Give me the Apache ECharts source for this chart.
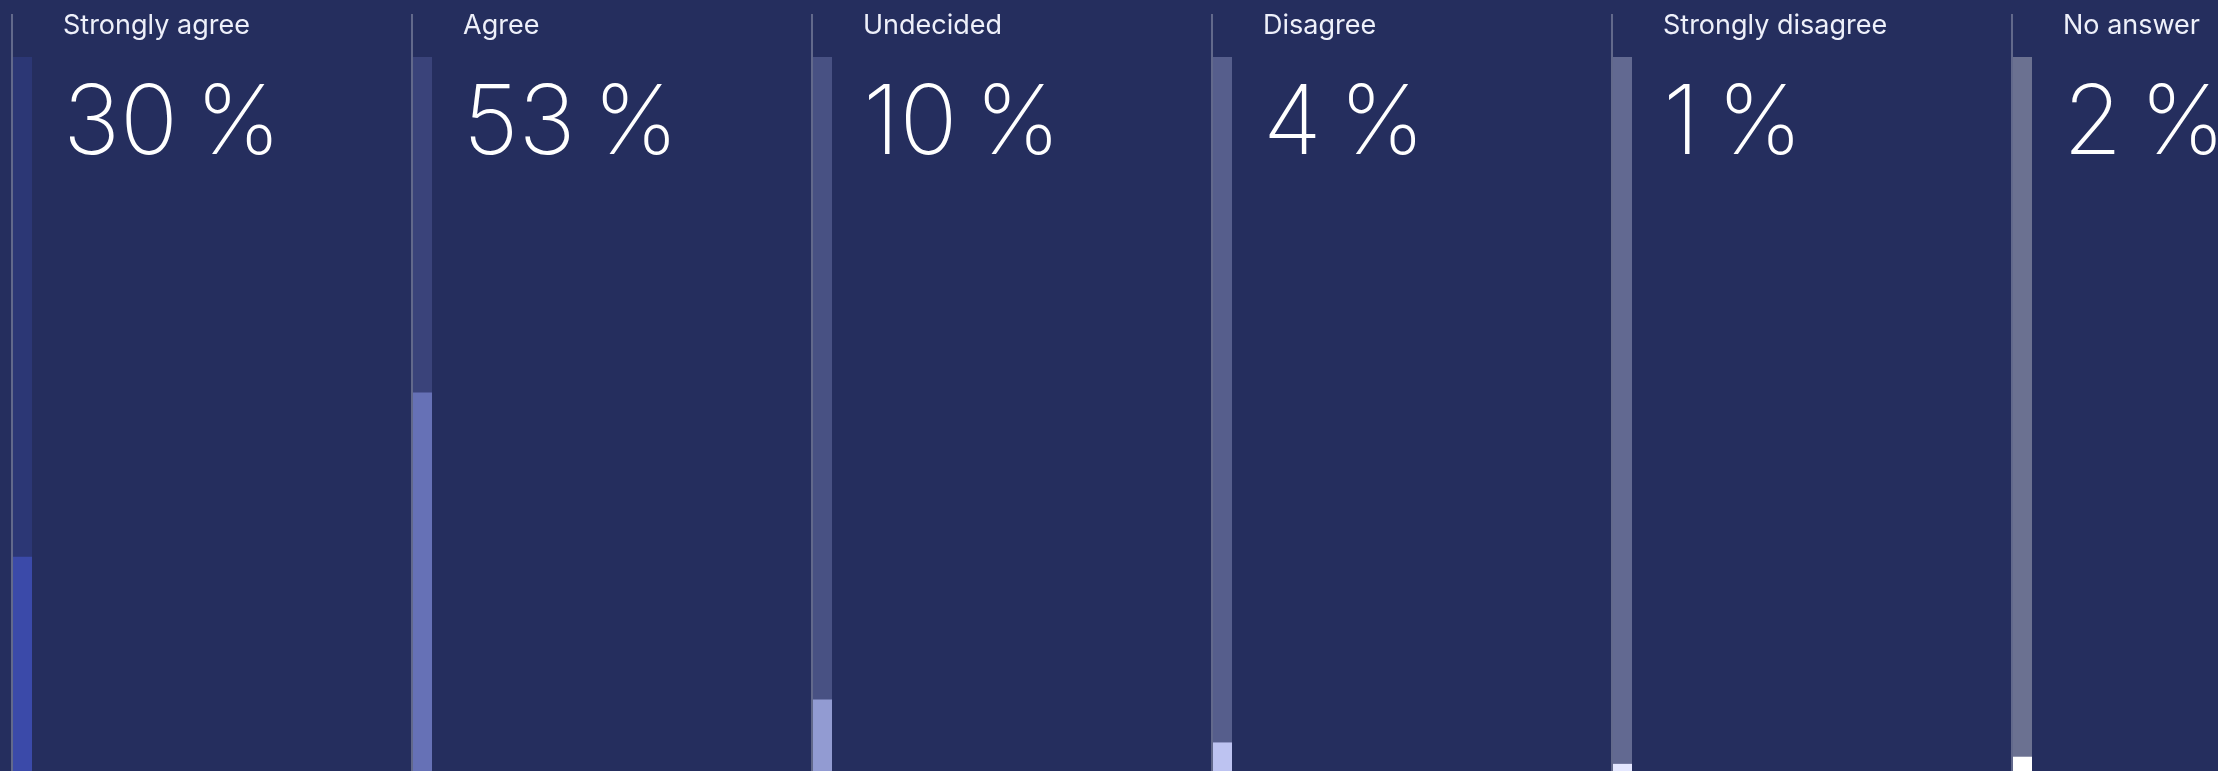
<!DOCTYPE html>
<html>
<head>
<meta charset="utf-8">
<script src="https://cdn.jsdelivr.net/npm/echarts@6/dist/echarts.min.js"></script>
<style>
html,body{margin:0;padding:0;background:#252e5e;}
#chart{width:2218px;height:771px;}
</style>
</head>
<body>
<div id="chart"></div>
<script>
const categories = ['Strongly agree', 'Agree', 'Undecided', 'Disagree', 'Strongly disagree', 'No answer'];
const values = [30, 53, 10, 4, 1, 2];
const barColors = ['#3b4aa9', '#6671b6', '#929bd2', '#bdc3f1', '#e4e7ff', '#ffffff'];
const trackColors = ['rgba(59,74,169,0.32)', 'rgba(102,113,182,0.32)', 'rgba(146,155,210,0.32)', 'rgba(189,195,241,0.32)', 'rgba(228,231,255,0.32)', 'rgba(255,255,255,0.32)'];

const panelStep = 400;
const trackLeft = 13;
const trackTop = 57;
const trackWidth = 19;

const grids = [], xAxes = [], yAxes = [], series = [], titles = [], graphics = [];
categories.forEach((cat, i) => {
  const x0 = panelStep * i;
  grids.push({ left: x0 + trackLeft, top: trackTop, width: trackWidth, bottom: 0 });
  xAxes.push({ type: 'category', gridIndex: i, data: [cat], show: false });
  yAxes.push({ type: 'value', gridIndex: i, min: 0, max: 100, show: false });
  series.push({
    type: 'bar', xAxisIndex: i, yAxisIndex: i, data: [values[i]],
    barWidth: '100%',
    itemStyle: { color: barColors[i] },
    showBackground: true,
    backgroundStyle: { color: trackColors[i] },
    silent: true
  });
  titles.push({
    text: cat, left: x0 + 63, top: 12, padding: 0,
    textStyle: { color: '#eef0fa', fontFamily: 'Inter', fontSize: 27, fontWeight: 400 }
  });
  titles.push({
    text: values[i] + '\u202F%', left: x0 + 63, top: 77, padding: 0,
    textStyle: { color: '#ffffff', fontFamily: 'Inter', fontSize: 96, fontWeight: 200 }
  });
  graphics.push({
    type: 'line', shape: { x1: x0 + 12, y1: 14, x2: x0 + 12, y2: 771 },
    style: { stroke: 'rgba(255,255,255,0.38)', lineWidth: 1.5 }, silent: true, z: 10
  });
});

const chart = echarts.init(document.getElementById('chart'), null, { renderer: 'canvas' });
chart.setOption({
  backgroundColor: '#252e5e',
  animation: false,
  title: titles,
  grid: grids,
  xAxis: xAxes,
  yAxis: yAxes,
  series: series,
  graphic: graphics
});
</script>
</body>
</html>
